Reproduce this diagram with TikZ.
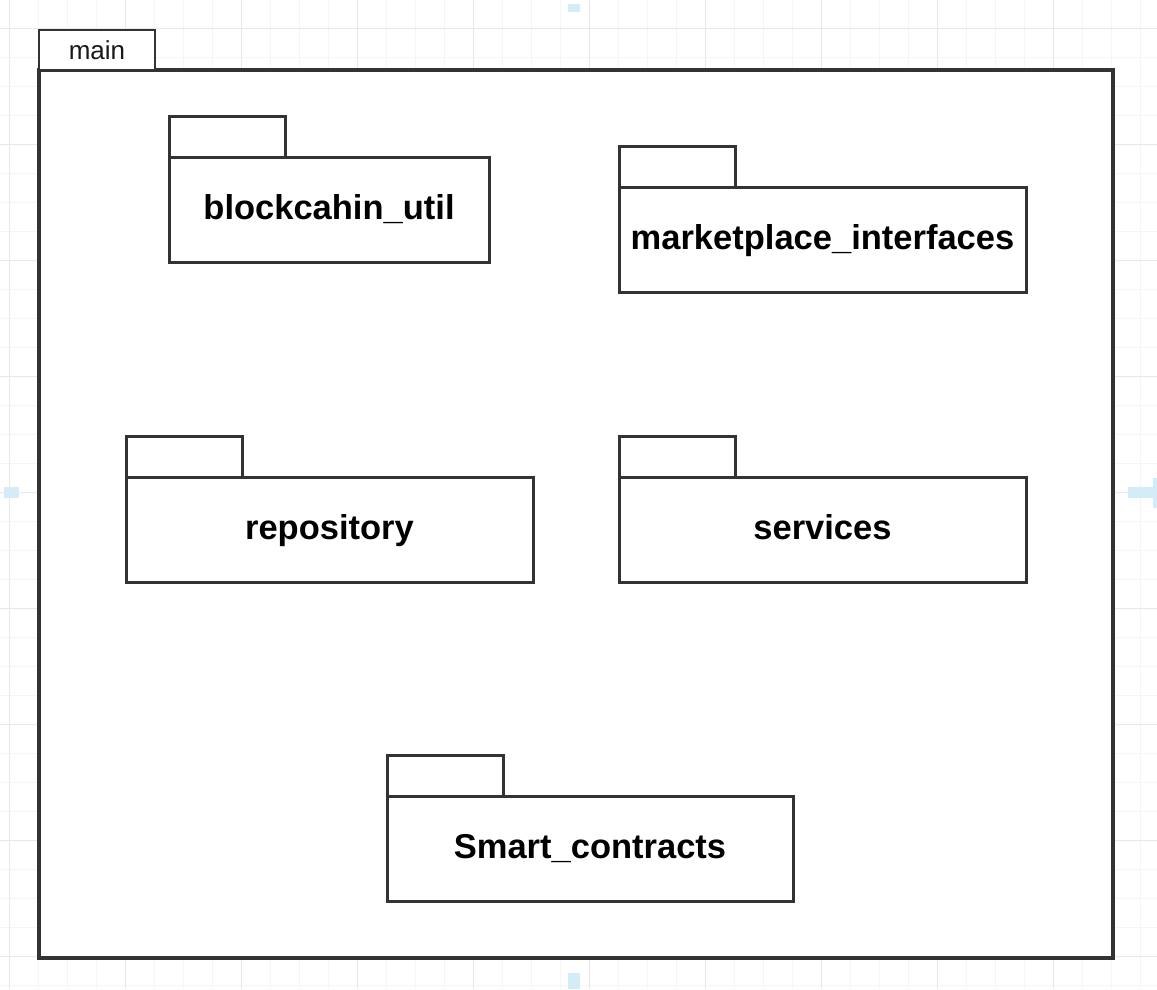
\documentclass[tikz,border=0pt]{standalone}
\usepackage{fontspec}
\setmainfont{Liberation Sans}
\definecolor{gridminor}{HTML}{F5F5F5}
\definecolor{gridmajor}{HTML}{E8E8E8}
\definecolor{edge}{HTML}{333333}
\definecolor{guide}{HTML}{D4EBF8}
\tikzset{
  minorline/.style={draw=gridminor, line width=1pt},
  majorline/.style={draw=gridmajor, line width=1pt},
  mainbody/.style={draw=edge, fill=white, line width=3.2pt, inner sep=0pt, outer sep=0pt,
    anchor=north west},
  maintab/.style={draw=edge, fill=white, line width=2.8pt, inner sep=0pt, outer sep=0pt,
    anchor=south west, minimum width=116pt, minimum height=40pt, text=black!90,
    font=\fontsize{26}{30}\selectfont},
  pkgbody/.style={draw=edge, fill=white, line width=3pt, inner sep=0pt, outer sep=0pt,
    anchor=north west, minimum height=105pt, text height=26pt, text depth=6pt,
    font=\bfseries\fontsize{34.5}{40}\selectfont},
  pkgtab/.style={draw=edge, fill=white, line width=3pt, inner sep=0pt, outer sep=0pt,
    anchor=south west, minimum width=116pt, minimum height=41pt},
  guidemark/.style={fill=guide}
}
\begin{document}
\begin{tikzpicture}[x=1pt,y=-1pt]
\useasboundingbox (0,0) rectangle (1157,989);
\fill[white] (0,0) rectangle (1157,989);

% background grid
\foreach \i in {0,...,39} \draw[minorline] ({9+29*\i},0) -- ({9+29*\i},989);
\foreach \i in {0,...,34} \draw[minorline] (0,{-1+29*\i}) -- (1157,{-1+29*\i});
\foreach \i in {0,...,9} \draw[majorline] ({9+116*\i},0) -- ({9+116*\i},989);
\foreach \i in {0,...,8} \draw[majorline] (0,{28+116*\i}) -- (1157,{28+116*\i});

% page guide marks
\fill[guidemark] (568,4) rectangle (580,12);
\fill[guidemark] (4,487) rectangle (19,498);
\fill[guidemark] (1128,487) rectangle (1157,498);
\fill[guidemark] (1153,478) rectangle (1157,508);
\fill[guidemark] (568,973) rectangle (580,989);

% enclosing package
\node[mainbody, minimum width=1074pt, minimum height=888pt] (mainbox) at (39,70) {};
\node[maintab] (maintabnode) at (mainbox.north west) {main};

% inner packages
\node[pkgbody, minimum width=320pt] (util) at (169,157) {blockcahin\_util};
\node[pkgtab] (utiltab) at (util.north west) {};

\node[pkgbody, minimum width=407pt] (market) at (619,187) {marketplace\_interfaces};
\node[pkgtab] (markettab) at (market.north west) {};

\node[pkgbody, minimum width=407pt] (repo) at (126,477) {repository};
\node[pkgtab] (repotab) at (repo.north west) {};

\node[pkgbody, minimum width=407pt] (serv) at (619,477) {services};
\node[pkgtab] (servtab) at (serv.north west) {};

\node[pkgbody, minimum width=406pt] (smart) at (387,796) {Smart\_contracts};
\node[pkgtab] (smarttab) at (smart.north west) {};
\end{tikzpicture}
\end{document}
